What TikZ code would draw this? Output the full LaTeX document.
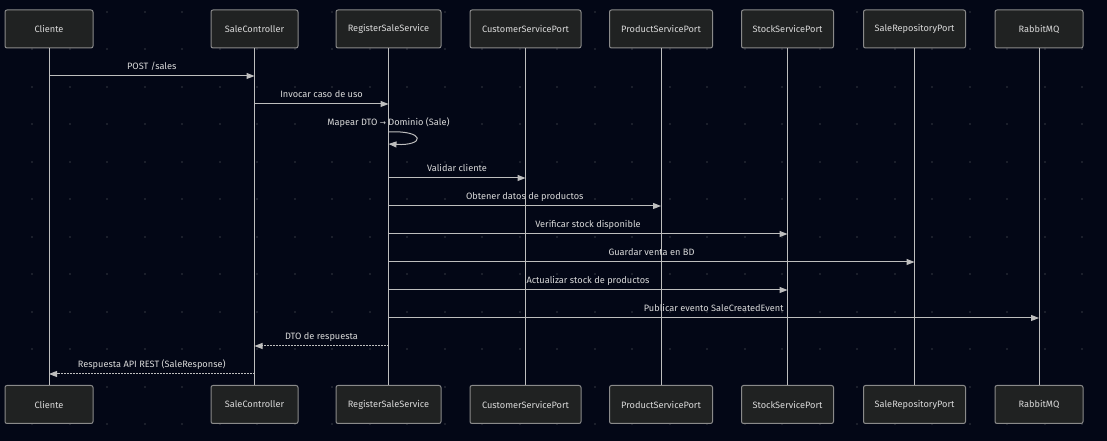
\documentclass[tikz,border=0pt]{standalone}
\usepackage{fontspec}
\setmainfont{Fira Sans}
\newfontfamily\arrowfont{DejaVu Sans}
\usetikzlibrary{arrows.meta}
\definecolor{canvas}{HTML}{030716}
\definecolor{gridpt}{HTML}{1B1F2B}
\definecolor{boxfill}{HTML}{202222}
\definecolor{boxline}{HTML}{8A8A8A}
\definecolor{ink}{HTML}{DADADA}
\definecolor{wire}{HTML}{BEBEBE}
\begin{document}
\begin{tikzpicture}[x=0.75pt, y=-0.75pt, >={Triangle[length=6pt,width=4.5pt]},
  actor/.style={draw=boxline, fill=boxfill, rounded corners=1.5pt, line width=0.75pt, minimum height=28.5pt, inner sep=0pt, text=ink, font=\fontsize{6.9}{8}\selectfont},
  life/.style={draw=wire, line width=0.75pt},
  msg/.style={draw=wire, line width=0.75pt, ->},
  reply/.style={msg, dash pattern=on 1.5pt off 0.75pt},
  relation/.style={text=ink, font=\fontsize{6.9}{8}\selectfont, inner sep=0pt, anchor=base, yshift=4.5pt}]
\useasboundingbox (0,0) rectangle (1107,441);
\fill[canvas] (0,0) rectangle (1107,441);
% background dots
\foreach \i in {0,...,28}
  \foreach \j in {0,...,11}
    \fill[gridpt] (31+37.5*\i,11+37.5*\j) rectangle +(2,2);
% participants and lifelines
\foreach \n/\x/\w/\t in {cli/49/88/Cliente, ctl/254.5/87/SaleController, svc/388.5/105/RegisterSaleService, cus/525.5/111/CustomerServicePort, pro/661/103/ProductServicePort, sto/787.5/92/StockServicePort, rep/914.5/102/SaleRepositoryPort, mq/1039/88/RabbitMQ} {
  \node[actor, minimum width=\w*0.75pt] (\n) at (\x,29) {\t};
  \node[actor, minimum width=\w*0.75pt] (\n2) at (\x,404.5) {\t};
  \draw[life] (\n) -- (\n2);
}
% messages
\draw[msg] (cli |- 0,76) -- node[relation] {POST /sales} (ctl |- 0,76);
\draw[msg] (ctl |- 0,104) -- node[relation] {Invocar caso de uso} (svc |- 0,104);
\node[relation] (maplbl) at (svc |- 0,132) {Mapear DTO {\arrowfont\fontsize{5.5}{6}\selectfont →} Dominio (Sale)};
\draw[msg] (svc |- 0,132) .. controls +(37,-2) and +(37,2) .. (svc |- 0,144);
\draw[msg] (svc |- 0,178) -- node[relation] {Validar cliente} (cus |- 0,178);
\draw[msg] (svc |- 0,206) -- node[relation] {Obtener datos de productos} (pro |- 0,206);
\draw[msg] (svc |- 0,234) -- node[relation] {Verificar stock disponible} (sto |- 0,234);
\draw[msg] (svc |- 0,262) -- node[relation] {Guardar venta en BD} (rep |- 0,262);
\draw[msg] (svc |- 0,290) -- node[relation] {Actualizar stock de productos} (sto |- 0,290);
\draw[msg] (svc |- 0,318) -- node[relation] {Publicar evento SaleCreatedEvent} (mq |- 0,318);
\draw[reply] (svc |- 0,346) -- node[relation] {DTO de respuesta} (ctl |- 0,346);
\draw[reply] (ctl |- 0,374) -- node[relation] {Respuesta API REST (SaleResponse)} (cli |- 0,374);
\end{tikzpicture}
\end{document}
